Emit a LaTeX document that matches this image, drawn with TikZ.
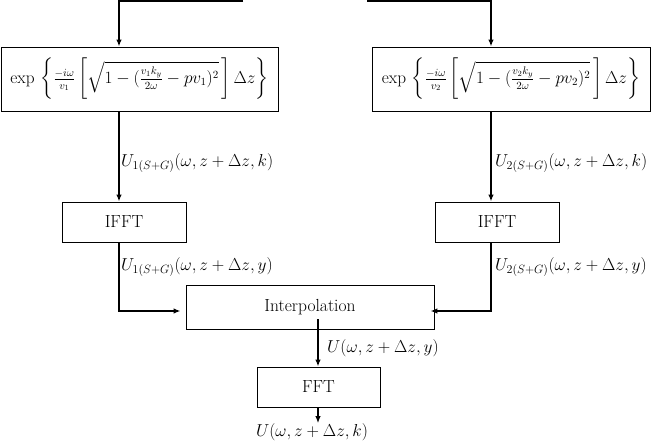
\documentclass[tikz,border=0pt]{standalone}
\usepackage{amsmath}
\usetikzlibrary{arrows.meta,calc}
\begin{document}
\begin{tikzpicture}[x=1pt,y=-1pt,
  box/.style={draw,line width=0.9pt,rectangle,inner sep=0pt,anchor=center},
  expbox/.style={box,minimum height=64pt,font=\fontsize{16.2}{19}\selectfont},
  conn/.style={line width=1.7pt},
  arr/.style={conn,-{Latex[length=7pt,width=5.5pt]}},
  lab/.style={anchor=west,inner sep=0pt},
  every node/.style={font=\fontsize{17.5}{21}\selectfont}]
\useasboundingbox (0,0) rectangle (651,441);
% boxes
\node[expbox,minimum width=277pt] (e1) at (139.5,79)
  {$\exp\,\left\{\frac{-i\omega}{v_1}\left[\sqrt{1-(\frac{v_1k_y}{2\omega}-pv_1)^2}\,\right]\Delta z\right\}$};
\node[expbox,minimum width=278pt] (e2) at (511,79)
  {$\exp\,\left\{\frac{-i\omega}{v_2}\left[\sqrt{1-(\frac{v_2k_y}{2\omega}-pv_2)^2}\,\right]\Delta z\right\}$};
\node[box,minimum width=124pt,minimum height=40pt] (i1) at (124,222) {IFFT};
\node[box,minimum width=124pt,minimum height=40pt] (i2) at (497,222) {IFFT};
\node[box,minimum width=248pt,minimum height=44pt] (ip) at (310,307) {Interpolation};
\node[box,minimum width=123pt,minimum height=40pt] (ff) at (318.5,387) {FFT};
% labels
\node[lab] (l1) at (121,163) {$U_{1(S+G)}(\omega,z+\Delta z,k)$};
\node[lab] (l2) at (121,267) {$U_{1(S+G)}(\omega,z+\Delta z,y)$};
\node[lab] (l3) at (495,163) {$U_{2(S+G)}(\omega,z+\Delta z,k)$};
\node[lab] (l4) at (495,267) {$U_{2(S+G)}(\omega,z+\Delta z,y)$};
\node[lab] (l5) at (327,348) {$U(\omega,z+\Delta z,y)$};
\node[inner sep=0pt] (out) at (312,432) {$U(\omega,z+\Delta z,k)$};
% coordinates
\coordinate (cl) at (119,0);
\coordinate (cr) at (491,0);
\coordinate (tl) at (243,1.2);
\coordinate (tr) at (367,1.2);
\coordinate (hy) at (0,311);
\coordinate (ic) at (318,319);
% connectors
\draw[arr] (tl) -- (tl -| cl) -- (e1.north -| cl);
\draw[arr] (tr) -- (tr -| cr) -- (e2.north -| cr);
\draw[arr] (e1.south -| cl) -- (i1.north -| cl);
\draw[arr] (e2.south -| cr) -- (i2.north -| cr);
\draw[arr,shorten >=5pt] (i1.south -| cl) -- (hy -| cl) -- (hy -| ip.west);
\draw[arr,shorten >=-4pt] (i2.south -| cr) -- (hy -| cr) -- (hy -| ip.east);
\draw[arr] (ic) -- (ff.north -| ic);
\draw[arr] (ff.south -| ic) -- (out.north -| ic);
\end{tikzpicture}
\end{document}
